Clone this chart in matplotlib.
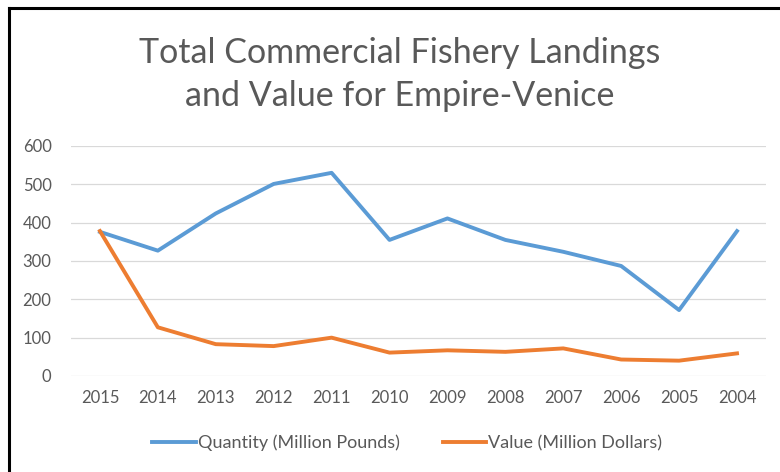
import numpy as np
import matplotlib
matplotlib.use("Agg")
import matplotlib.pyplot as plt
from matplotlib.lines import Line2D

plt.rcParams['font.family'] = ['Lato', 'DejaVu Sans']

years = ["2015", "2014", "2013", "2012", "2011", "2010",
         "2009", "2008", "2007", "2006", "2005", "2004"]
quantity = [376, 327, 424, 501, 530, 355, 411, 355, 324, 287, 172, 378]
value = [378, 127, 83, 78, 100, 61, 67, 63, 72, 43, 40, 59]

text_grey = "#595959"

fig = plt.figure(figsize=(7.8, 4.72), dpi=100)
ax = fig.add_axes([0.091, 0.2034, 0.891, 0.4873])

x = np.arange(len(years))
ax.plot(x, quantity, color="#5b9bd5", lw=2.8, solid_joinstyle="round",
        label="Quantity (Million Pounds)")
ax.plot(x, value, color="#ed7d31", lw=2.8, solid_joinstyle="round",
        label="Value (Million Dollars)")

ax.set_xlim(-0.5, len(years) - 0.5)
ax.set_ylim(0, 600)
ax.set_yticks(range(0, 601, 100))
ax.set_xticks(x)
ax.set_xticklabels(years)
ax.grid(axis="y", color="#d9d9d9", lw=0.9)
ax.set_axisbelow(True)
for s in ax.spines.values():
    s.set_visible(False)
ax.tick_params(axis="both", length=0, labelsize=12, colors=text_grey)
ax.tick_params(axis="y", pad=14)
ax.tick_params(axis="x", pad=10)

# two-line title, each line placed on its own baseline
fig.text(0.513, 0.866, "Total Commercial Fishery Landings", ha="center",
         va="baseline", fontsize=24.5, color=text_grey)
fig.text(0.513, 0.775, "and Value for Empire-Venice", ha="center",
         va="baseline", fontsize=24.5, color=text_grey)

leg = fig.legend(loc="center", bbox_to_anchor=(0.522, 0.061), ncol=2, frameon=False,
                 fontsize=13, handlelength=2.4, handletextpad=0.1, columnspacing=2.4)
for t in leg.get_texts():
    t.set_color(text_grey)

# frame edges along the left and top
fig.add_artist(Line2D([9 / 780, 9 / 780], [0, 1 - 8 / 472], color="black", lw=2.2,
                      transform=fig.transFigure))
fig.add_artist(Line2D([9 / 780, 1], [1 - 8 / 472, 1 - 8 / 472], color="black", lw=2.2,
                      transform=fig.transFigure))

fig.savefig("out.png", dpi=100)
